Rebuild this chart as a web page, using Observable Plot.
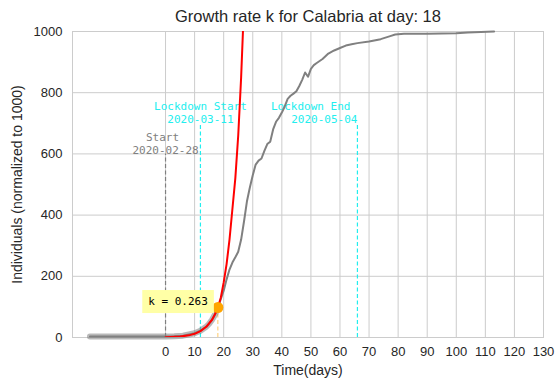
<!DOCTYPE html>
<html>
<head>
<meta charset="utf-8">
<script src="https://cdn.jsdelivr.net/npm/d3@7"></script>
<script src="https://cdn.jsdelivr.net/npm/@observablehq/plot@0.6"></script>
<style>
  html, body { margin: 0; padding: 0; background: #ffffff; }
</style>
</head>
<body>
<div id="chart"></div>
<script>
// ---- data ----
const titleText = "Growth rate k for Calabria at day: 18";
const xLabel = "Time(days)";
const yLabel = "Individuals (normalized to 1000)";

// observed cases (normalized to 1000), by day since start
const days  = [-26, -20, -15, -10, -5, 0, 3, 6, 8, 10, 12, 14, 15, 16, 17, 18, 19, 20, 21, 22, 23, 24, 25, 26, 27, 28, 29, 30, 31, 32, 33, 34, 35, 36, 37, 38, 39, 40, 41, 42, 43, 44, 45, 46, 47, 48, 49, 50, 51, 52, 54, 56, 58, 60, 62, 64, 66, 70, 74, 77, 79, 82, 90, 100, 104, 113];
const cases = [3, 3, 3, 3, 3, 3, 4, 6, 10, 14, 22, 35, 45, 58, 75, 98, 125, 153, 190, 222, 245, 262, 280, 320, 380, 445, 490, 530, 565, 578, 585, 610, 632, 640, 680, 705, 718, 735, 755, 780, 790, 797, 805, 822, 842, 866, 852, 878, 890, 897, 910, 928, 938, 946, 954, 958, 962, 967, 975, 984, 990, 993, 993, 994, 997, 1000];

// exponential fit curve (red)
const fitDays   = [0, 5, 8, 10, 12, 14, 16, 17, 18, 19, 20, 21, 22, 23, 24, 25, 26, 27];
const fitValues = [1, 3, 7, 12, 21, 35, 58, 76, 98, 130, 180, 240, 320, 420, 520, 660, 850, 1090];

const fitDay = 18;
const kValue = 0.263;

// events
const eventDays   = [0, 12, 66];
const eventNames  = ["Start", "Lockdown Start", "Lockdown End"];
const eventDates  = ["2020-02-28", "2020-03-11", "2020-05-04"];
const eventTops   = [600, 700, 700];

const xTicks = [0, 10, 20, 30, 40, 50, 60, 70, 80, 90, 100, 110, 120, 130];
const yTicks = [0, 200, 400, 600, 800, 1000];

// ---- tables built from the arrays ----
const observed = days.map((d, i) => ({day: d, value: cases[i]}));
const fitted = observed.filter(d => d.day <= fitDay);
const fitCurve = fitDays.map((d, i) => ({day: d, value: fitValues[i]}));
const fitPoint = observed.filter(d => d.day === fitDay);
const events = eventDays.map((d, i) => ({day: d, name: eventNames[i], date: eventDates[i], top: eventTops[i]}));

const eventColors = ["#808080", "#22eeee", "#22eeee"];
const mono = "'DejaVu Sans Mono', monospace";

const eventMarks = [];
events.forEach((e, i) => {
  const color = eventColors[i];
  eventMarks.push(Plot.ruleX([e], {x: "day", y1: 0, y2: "top", stroke: color, strokeWidth: 1.2, strokeDasharray: "4,2.5"}));
  let anchor = "middle", dxName = 0, dxDate = 0;
  if (i === 0) { dxName = -3; }
  if (i === 2) { anchor = "end"; dxName = -7; }
  eventMarks.push(Plot.text([e], {x: "day", y: "top", text: "date", fill: color, fontFamily: mono, fontSize: 11, textAnchor: anchor, lineAnchor: "bottom", dx: dxDate, dy: 0}));
  eventMarks.push(Plot.text([e], {x: "day", y: "top", text: "name", fill: color, fontFamily: mono, fontSize: 11, textAnchor: anchor, lineAnchor: "bottom", dx: dxName, dy: -13}));
});

const chart = Plot.plot({
  width: 555,
  height: 383,
  marginTop: 31,
  marginLeft: 72,
  marginRight: 12,
  marginBottom: 46,
  x: {domain: [-32, 130]},
  y: {domain: [0, 1000]},
  style: {fontFamily: "'Liberation Sans', Arial, sans-serif", fontSize: "13px", color: "#262626", background: "#ffffff"},
  marks: [
    Plot.gridX({ticks: xTicks, stroke: "#cccccc", strokeOpacity: 1, strokeWidth: 1}),
    Plot.gridY({ticks: yTicks, stroke: "#cccccc", strokeOpacity: 1, strokeWidth: 1}),
    Plot.frame({stroke: "#cccccc", strokeWidth: 1}),
    Plot.axisX({ticks: xTicks, tickSize: 0, tickPadding: 9, label: null, fontSize: 13, fill: "#262626", tickFormat: d => String(d)}),
    Plot.axisY({ticks: yTicks, tickSize: 0, tickPadding: 10, label: null, fontSize: 13, fill: "#262626", tickFormat: d => String(d)}),
    ...eventMarks,
    Plot.ruleX(fitPoint, {x: "day", y1: 0, y2: "value", stroke: "orange", strokeWidth: 1, strokeDasharray: "4,2.5", strokeOpacity: 0.6}),
    Plot.line(fitted, {x: "day", y: "value", stroke: "#808080", strokeOpacity: 0.55, strokeWidth: 6}),
    Plot.line(observed, {x: "day", y: "value", stroke: "#808080", strokeWidth: 2}),
    Plot.line(fitCurve, {x: "day", y: "value", stroke: "red", strokeWidth: 2, clip: true}),
    Plot.dot(fitPoint, {x: "day", y: "value", r: 5.5, fill: "orange", stroke: "none"}),
    Plot.text(fitPoint, {x: "day", y: "value", text: d => "k = " + kValue, fontFamily: mono, fontSize: 11, fill: "#000000", textAnchor: "end", dx: -10, dy: -6}),
    Plot.text([titleText], {text: d => d, frameAnchor: "top", lineAnchor: "middle", dy: -15, fontSize: 16.5, fill: "#262626"}),
    Plot.text([xLabel], {text: d => d, frameAnchor: "bottom", lineAnchor: "middle", dy: 33, fontSize: 14, fill: "#262626"}),
    Plot.text([yLabel], {text: d => d, frameAnchor: "left", textAnchor: "middle", dx: -55, rotate: -90, fontSize: 14, fill: "#262626"})
  ]
});

document.getElementById("chart").appendChild(chart);

// yellow box behind the k label
const kText = Array.from(chart.querySelectorAll("text")).find(t => t.textContent === "k = " + kValue);
if (kText) {
  const bb = kText.getBBox();
  const rect = document.createElementNS("http://www.w3.org/2000/svg", "rect");
  rect.setAttribute("x", bb.x - 6);
  rect.setAttribute("y", bb.y - 5);
  rect.setAttribute("width", bb.width + 12);
  rect.setAttribute("height", bb.height + 10);
  rect.setAttribute("fill", "#ffffa6");
  const tr = kText.getAttribute("transform");
  if (tr) rect.setAttribute("transform", tr);
  kText.parentNode.insertBefore(rect, kText);
}
</script>
</body>
</html>
